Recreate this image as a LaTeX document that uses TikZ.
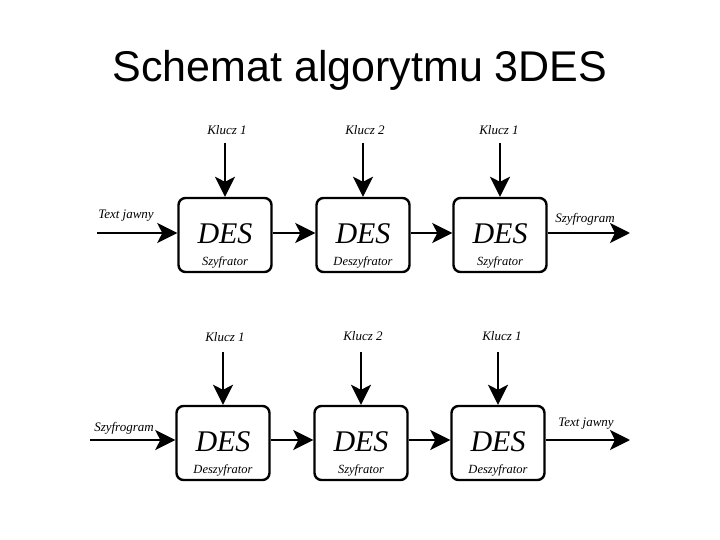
\documentclass[tikz,border=0pt]{standalone}
\usepackage{fontspec}
\setmainfont{Liberation Serif}
\setsansfont{Liberation Sans}
\usetikzlibrary{arrows.meta}
\begin{document}
\begin{tikzpicture}[x=1pt,y=-1pt,
  desbox/.style={draw,line width=2.4pt,rounded corners=7pt,minimum width=93pt,minimum height=74pt,inner sep=0pt},
  conn/.style={line width=2.8pt,-{Stealth[length=20pt,width=20pt,inset=5pt]}},
  lbl/.style={font=\itshape\fontsize{13}{15}\selectfont,inner sep=1pt},
  big/.style={font=\itshape\fontsize{30}{32}\selectfont,inner sep=0pt},
  sub/.style={font=\itshape\fontsize{12.5}{14}\selectfont,inner sep=0pt}]
\useasboundingbox (0,0) rectangle (720,540);
\node[font=\sffamily\fontsize{43}{48}\selectfont] (title) at (360,70) {Schemat algorytmu 3DES};

% top row
\foreach \n/\x/\s in {a1/225/Szyfrator,a2/363/Deszyfrator,a3/500/Szyfrator}{
  \node[desbox] (\n) at (\x,235) {};
  \node[big] at (\x,234) {DES};
  \node[sub] at (\x,262) {\s};
}
\node[lbl] (ka1) at (227,130) {Klucz 1};
\node[lbl] (ka2) at (365,130) {Klucz 2};
\node[lbl] (ka3) at (499,130) {Klucz 1};
\coordinate (sa1) at (a1.north |- 0,143);
\coordinate (sa2) at (a2.north |- 0,143);
\coordinate (sa3) at (a3.north |- 0,143);
\draw[conn] (sa1) -- (a1.north);
\draw[conn] (sa2) -- (a2.north);
\draw[conn] (sa3) -- (a3.north);
\coordinate (ina) at (97,233);
\coordinate (outa) at (630,233);
\node[lbl] (ta) at (126,216) {Text jawny};
\node[lbl] (sa) at (585,219) {Szyfrogram};
\draw[conn] (ina) -- (ina -| a1.west);
\draw[conn] (a1.east |- 0,233) -- (a2.west |- 0,233);
\draw[conn] (a2.east |- 0,233) -- (a3.west |- 0,233);
\draw[conn] (a3.east |- 0,233) -- (outa);

% bottom row
\foreach \n/\x/\s in {b1/223/Deszyfrator,b2/361/Szyfrator,b3/498/Deszyfrator}{
  \node[desbox] (\n) at (\x,443) {};
  \node[big] at (\x,442) {DES};
  \node[sub] at (\x,470) {\s};
}
\node[lbl] (kb1) at (225,337) {Klucz 1};
\node[lbl] (kb2) at (363,336) {Klucz 2};
\node[lbl] (kb3) at (502,336) {Klucz 1};
\coordinate (sb1) at (b1.north |- 0,352);
\coordinate (sb2) at (b2.north |- 0,352);
\coordinate (sb3) at (b3.north |- 0,352);
\draw[conn] (sb1) -- (b1.north);
\draw[conn] (sb2) -- (b2.north);
\draw[conn] (sb3) -- (b3.north);
\coordinate (inb) at (90,440);
\coordinate (outb) at (630,440);
\node[lbl] (tb) at (124,428) {Szyfrogram};
\node[lbl] (sb) at (586,424) {Text jawny};
\draw[conn] (inb) -- (inb -| b1.west);
\draw[conn] (b1.east |- 0,440) -- (b2.west |- 0,440);
\draw[conn] (b2.east |- 0,440) -- (b3.west |- 0,440);
\draw[conn] (b3.east |- 0,440) -- (outb);
\end{tikzpicture}
\end{document}
